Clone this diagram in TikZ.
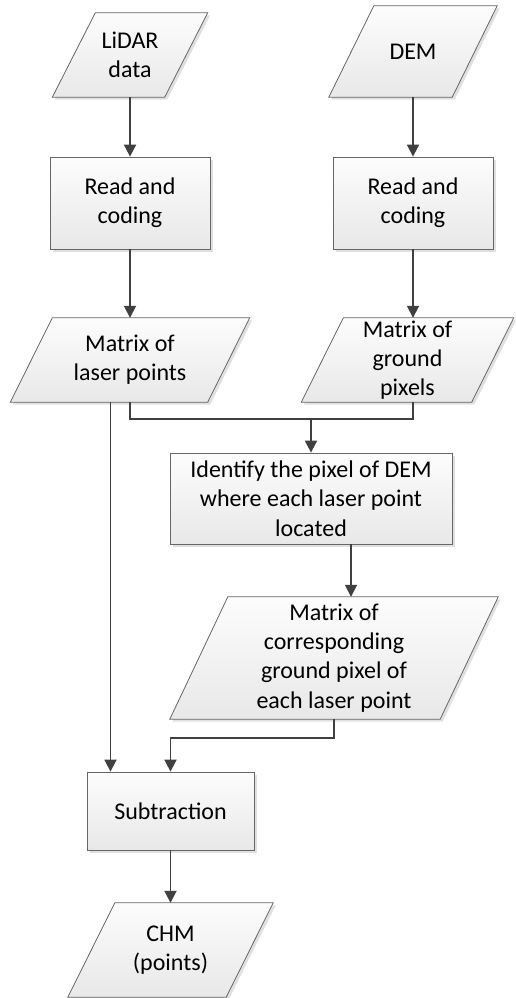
\documentclass[tikz,border=0pt]{standalone}
\usepackage{fontspec}
\setmainfont{Carlito}
\usetikzlibrary{arrows.meta,shadows,calc}
\pgfdeclarelayer{background}
\pgfsetlayers{background,main}

\begin{document}
\begin{tikzpicture}[x=1pt,y=-1pt,
    font=\fontsize{24}{29.3}\selectfont,
    shape base/.style={draw=black!60, line width=0.8pt,
      top color=black!1, bottom color=black!9,
      drop shadow={shadow xshift=2.5pt, shadow yshift=-2.5pt, fill=black!12, opacity=1}},
    procbox/.style={shape base, rectangle, align=center, inner sep=0pt},
    databox/.style={rectangle, align=center, inner sep=0pt},
    conn/.style={draw=black!75, line width=1.8pt},
    arrow/.style={conn, -{Triangle[width=12pt,length=12pt]}}
  ]
    \useasboundingbox (0,0) rectangle (515,998);

    % Inputs
    \node[databox, minimum width=112pt, minimum height=84pt] (lidar) at (130,55) {LiDAR\\data};
    \node[databox, minimum width=123pt, minimum height=91pt] (dem) at (413,51.5) {DEM};

    % Read and coding
    \node[procbox, minimum width=160pt, minimum height=92pt] (readA) at (130,203) {Read and\\coding};
    \node[procbox, minimum width=160pt, minimum height=92pt] (readB) at (413,203) {Read and\\coding};

    % Matrices
    \node[databox, minimum width=197pt, minimum height=84pt] (laser) at (130,360) {Matrix of\\laser points};
    \node[databox, minimum width=170pt, minimum height=84pt] (ground) at (407.5,360) {Matrix of\\ground\\pixels};

    % Locate pixels
    \node[procbox, minimum width=282pt, minimum height=91pt] (ident) at (311,498.5)
      {Identify the pixel of DEM\\where each laser point\\located};
    \node[databox, minimum width=270pt, minimum height=122pt] (corr) at (334,658)
      {Matrix of\\corresponding\\ground pixel of\\each laser point};

    % Output
    \node[procbox, minimum width=167pt, minimum height=78pt] (sub) at (170.5,811) {Subtraction};
    \node[databox, minimum width=158pt, minimum height=94pt] (chm) at (170.5,950) {CHM\\(points)};

    % Data frames (slanted)
    \begin{pgfonlayer}{background}
      \foreach \n/\s in {lidar/43, dem/45, laser/42, ground/42, corr/58, chm/47}
        \draw[shape base] ($(\n.north west)+(\s/2,0)$) -- ($(\n.north east)+(\s/2,0)$)
          -- ($(\n.south east)+(-\s/2,0)$) -- ($(\n.south west)+(-\s/2,0)$) -- cycle;
    \end{pgfonlayer}

    % Connectors
    \draw[arrow] (lidar) -- (readA);
    \draw[arrow] (dem) -- (readB);
    \draw[arrow] (readA) -- (laser);
    \draw[arrow] (readB) -- (readB |- ground.north);

    \coordinate (merge) at ($(ident.north)+(0,-34)$);
    \draw[conn] (laser.south) |- (merge);
    \draw[conn] (readB |- ground.south) |- (merge);
    \draw[arrow] (merge) -- (ident);

    \coordinate (subL) at ($(sub.north)+(-60,0)$);
    \draw[arrow] (subL |- laser.south) -- (subL);

    \coordinate (identOut) at ($(ident.south)+(40,0)$);
    \draw[arrow] (identOut) -- (identOut |- corr.north);
    \draw[arrow] (corr.south) -- ++(0,19) -| (sub.north);
    \draw[arrow] (sub) -- (chm);
\end{tikzpicture}
\end{document}
